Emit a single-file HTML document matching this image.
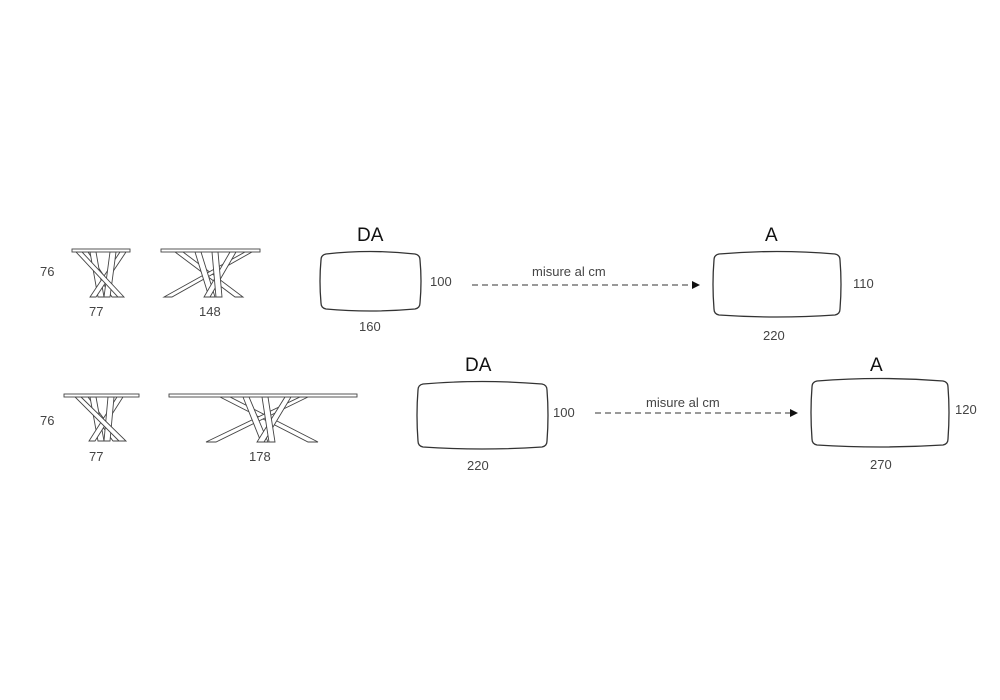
<!DOCTYPE html>
<html><head><meta charset="utf-8"><style>
html,body{margin:0;padding:0;background:#fff;width:1000px;height:700px;overflow:hidden}
svg{display:block}
text{font-family:"Liberation Sans",sans-serif;fill:#444;font-size:13px}
.h{fill:#111;font-size:19px}
.b{fill:none;stroke:#333;stroke-width:1.3}
.l{fill:#fff;stroke:#444;stroke-width:0.9}
</style></head><body>
<svg width="1000" height="700" viewBox="0 0 1000 700">
<!-- small table row1 -->
<g>
<polygon class="l" points="82,252 88,252 118,297 112,297"/>
<polygon class="l" points="90,252 96,252 104,297 98,297"/>
<polygon class="l" points="120,252 126,252 96,297 90,297"/>
<polygon class="l" points="110,252 116,252 110,297 104,297"/>
<polygon class="l" points="76,252 82,252 124,297 118,297"/>
<rect class="l" x="72" y="249" width="58" height="3"/>
</g>
<text x="40" y="276">76</text><text x="89" y="316">77</text>
<!-- 148 table -->
<g>
<polygon class="l" points="175,252 183,252 243,297 235,297"/>
<polygon class="l" points="245,252 252,252 172,297 164,297"/>
<polygon class="l" points="195,252 201,252 215,297 209,297"/>
<polygon class="l" points="230,252 236,252 210,297 204,297"/>
<polygon class="l" points="212,252 218,252 222,297 216,297"/>
<rect class="l" x="161" y="249" width="99" height="3"/>
</g>
<text x="199" y="316">148</text>
<!-- row2 small -->
<g>
<polygon class="l" points="81,397 88,397 120,441 113,441"/>
<polygon class="l" points="90,397 96,397 104,441 98,441"/>
<polygon class="l" points="117,397 123,397 95,441 89,441"/>
<polygon class="l" points="108,397 114,397 110,441 104,441"/>
<polygon class="l" points="75,397 81,397 126,441 119,441"/>
<rect class="l" x="64" y="394" width="75" height="3"/>
</g>
<text x="40" y="425">76</text><text x="89" y="461">77</text>
<!-- 178 table -->
<g>
<polygon class="l" points="220,397 230,397 318,442 308,442"/>
<polygon class="l" points="300,397 308,397 216,442 206,442"/>
<polygon class="l" points="243,397 249,397 268,442 261,442"/>
<polygon class="l" points="285,397 291,397 264,442 257,442"/>
<polygon class="l" points="262,397 268,397 275,442 269,442"/>
<rect class="l" x="169" y="394" width="188" height="3"/>
</g>
<text x="249" y="461">178</text>

<!-- DA1 -->
<text class="h" x="357" y="241">DA</text>
<path class="b" d="M326,254 Q370,249 415,254 Q420,255 420,260 Q422,281 420,303 Q420,308 415,309 Q370,313 326,309 Q321,308 321,303 Q319,281 321,260 Q321,255 326,254Z"/>
<text x="430" y="286">100</text><text x="359" y="331">160</text>
<line x1="472" y1="285" x2="692" y2="285" stroke="#333" stroke-width="1.1" stroke-dasharray="6,4"/>
<polygon points="692,281 700,285 692,289" fill="#111"/>
<text x="532" y="276">misure al cm</text>
<!-- A1 -->
<text class="h" x="765" y="241">A</text>
<path class="b" d="M719,254 Q777,249 835,254 Q840,255 840,260 Q842,284 840,309 Q840,314 835,315 Q777,319 719,315 Q714,314 714,309 Q712,284 714,260 Q714,255 719,254Z"/>
<text x="853" y="288">110</text><text x="763" y="340">220</text>

<!-- DA2 -->
<text class="h" x="465" y="371">DA</text>
<path class="b" d="M423,384 Q482,379 542,384 Q547,385 547,390 Q549,415 547,441 Q547,446 542,447 Q482,451 423,447 Q418,446 418,441 Q416,415 418,390 Q418,385 423,384Z"/>
<text x="553" y="417">100</text><text x="467" y="470">220</text>
<line x1="595" y1="413" x2="790" y2="413" stroke="#333" stroke-width="1.1" stroke-dasharray="6,4"/>
<polygon points="790,409 798,413 790,417" fill="#111"/>
<text x="646" y="407">misure al cm</text>
<!-- A2 -->
<text class="h" x="870" y="371">A</text>
<path class="b" d="M817,381 Q880,376 943,381 Q948,382 948,387 Q950,412 948,439 Q948,444 943,445 Q880,449 817,445 Q812,444 812,439 Q810,412 812,387 Q812,382 817,381Z"/>
<text x="955" y="414">120</text><text x="870" y="469">270</text>
</svg>
</body></html>
